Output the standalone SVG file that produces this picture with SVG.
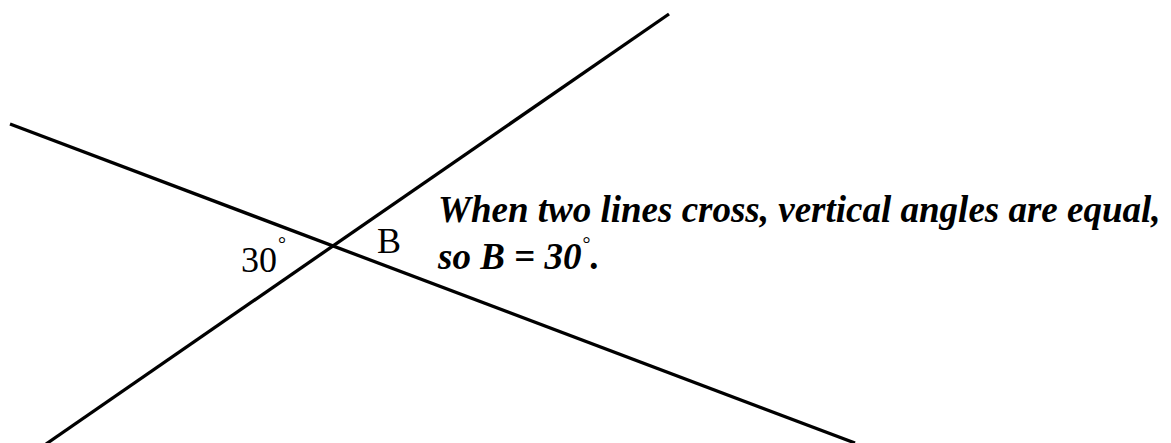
<svg xmlns="http://www.w3.org/2000/svg" width="1171" height="443" viewBox="0 0 1171 443">
<style>
.ln{stroke:#000;stroke-width:3.3;fill:none;stroke-linecap:butt}
.lbl{font-family:"Liberation Serif","Times New Roman",serif;font-size:36px;fill:#000}
.note{font-family:"Liberation Serif","Times New Roman",serif;font-size:37px;font-weight:bold;font-style:italic;fill:#000}
.deg{font-size:20px;font-style:normal;font-weight:normal}
</style>
<rect width="1171" height="443" fill="#fff"/>
<g id="connectors">
<line class="ln" x1="10" y1="124" x2="855" y2="443"/>
<line class="ln" x1="669" y1="14" x2="46" y2="444"/>
</g>
<g id="label-30">
<text class="lbl" x="241" y="272">30<tspan class="deg" dx="1" dy="-21">°</tspan></text>
</g>
<g id="label-B">
<text class="lbl" x="377" y="253">B</text>
</g>
<g id="note">
<text class="note" x="438" y="222">When two lines cross, vertical angles are equal,</text>
<text class="note" x="438" y="269">so B = 30<tspan class="deg" dx="1" dy="-18">°</tspan><tspan dy="18">.</tspan></text>
</g>
</svg>
